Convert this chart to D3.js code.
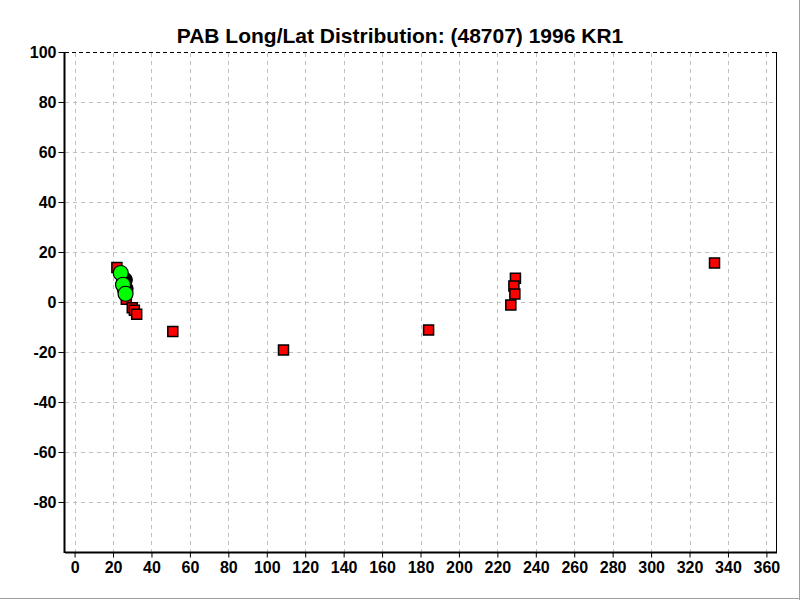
<!DOCTYPE html>
<html><head><meta charset="utf-8">
<script src="https://cdn.jsdelivr.net/npm/d3@7"></script>
<style>body{margin:0;background:#fff}svg{display:block}text{font-family:"Liberation Sans",Arial,sans-serif;font-weight:bold}</style>
</head><body>
<script>
const title = "PAB Long/Lat Distribution: (48707) 1996 KR1";
const xTicks = d3.range(0, 361, 20);
const yTicks = d3.range(-80, 101, 20);
// red squares: [longitude, latitude]
const squareLon = [22.0, 26.9, 30.0, 31.1, 32.3, 51.1, 108.7, 184.2, 229.4, 228.6, 229.1, 227.0, 333.0];
const squareLat = [13.8, 1.1, -2.3, -3.3, -4.9, -11.8, -19.2, -11.2, 9.5, 6.4, 3.2, -1.2, 15.6];
// black circles
const blackLon = [25.9, 26.3];
const blackLat = [8.8, 5.3];
// green circles
const greenLon = [24.0, 25.2, 26.5];
const greenLat = [11.6, 6.9, 3.3];

const W = 800, H = 600;
const svg = d3.select("body").append("svg").attr("width", W).attr("height", H);
const x = d3.scaleLinear().domain([-5, 365]).range([65, 776]);
const y = d3.scaleLinear().domain([-100, 100]).range([552, 52]);

// frame
svg.append("line").attr("x1", 0).attr("x2", 800).attr("y1", 598.5).attr("y2", 598.5).attr("stroke", "#a0a0a0");
svg.append("line").attr("x1", 799.5).attr("x2", 799.5).attr("y1", 0).attr("y2", 600).attr("stroke", "#a0a0a0");

// grid
const g = svg.append("g");
g.selectAll(".vg").data(xTicks).enter().append("line")
  .attr("x1", d => Math.round(x(d)) + 0.5).attr("x2", d => Math.round(x(d)) + 0.5)
  .attr("y1", 53).attr("y2", 552)
  .attr("stroke", "#c0c0c0").attr("stroke-dasharray", "4,4");
g.selectAll(".hg").data(yTicks.filter(d => d < 100)).enter().append("line")
  .attr("y1", d => Math.round(y(d)) + 0.5).attr("y2", d => Math.round(y(d)) + 0.5)
  .attr("x1", 65).attr("x2", 776)
  .attr("stroke", "#c0c0c0").attr("stroke-dasharray", "4,4");

// top dashed border, right solid border
svg.append("line").attr("x1", 65).attr("x2", 776).attr("y1", 52.5).attr("y2", 52.5)
  .attr("stroke", "#000").attr("stroke-dasharray", "4,3");
svg.append("line").attr("x1", 776.5).attr("x2", 776.5).attr("y1", 52).attr("y2", 552).attr("stroke", "#000");

// axes
const fmt = d => String(d);
const xAxis = d3.axisBottom(x).tickValues(xTicks).tickSize(5).tickPadding(4).tickFormat(fmt);
const yAxis = d3.axisLeft(y).tickValues(yTicks).tickSize(6).tickPadding(2).tickFormat(fmt);
const gx = svg.append("g").attr("transform", "translate(0,552.5)").call(xAxis);
const gy = svg.append("g").attr("transform", "translate(64.5,0)").call(yAxis);
[gx, gy].forEach(a => {
  a.select(".domain").attr("stroke", "#000").attr("stroke-width", 2);
  a.selectAll(".tick line").attr("stroke", "#000");
  a.selectAll(".tick text").attr("fill", "#000").style("font-size", "16px")
    .style("font-family", '"Liberation Sans",Arial,sans-serif').style("font-weight", "bold");
});
gx.select(".domain").attr("d", "M65,0H777");
gy.select(".domain").attr("d", "M0,52V553");

// title
svg.append("text").attr("x", 400).attr("y", 43).attr("text-anchor", "middle")
  .style("font-size", "21px").attr("fill", "#000").text(title);

// points
const sq = squareLon.map((d, i) => [d, squareLat[i]]);
svg.append("g").selectAll("rect").data(sq).enter().append("rect")
  .attr("x", d => x(d[0]) - 5).attr("y", d => y(d[1]) - 5)
  .attr("width", 10).attr("height", 10)
  .attr("fill", "#ff0000").attr("stroke", "#000").attr("stroke-width", 1.5);
const bl = blackLon.map((d, i) => [d, blackLat[i]]);
svg.append("g").selectAll("circle").data(bl).enter().append("circle")
  .attr("cx", d => x(d[0])).attr("cy", d => y(d[1])).attr("r", 8)
  .attr("fill", "#000").attr("stroke", "#000");
const gr = greenLon.map((d, i) => [d, greenLat[i]]);
svg.append("g").selectAll("circle").data(gr).enter().append("circle")
  .attr("cx", d => x(d[0])).attr("cy", d => y(d[1])).attr("r", 7.5)
  .attr("fill", "#00ff00").attr("stroke", "#000").attr("stroke-width", 1.2);
</script>
</body></html>
